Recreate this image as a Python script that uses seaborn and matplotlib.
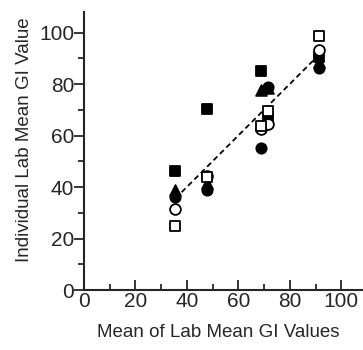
import numpy as np
import pandas as pd
import matplotlib
matplotlib.use("Agg")
import matplotlib.pyplot as plt
from matplotlib.ticker import MultipleLocator
import seaborn as sns

# mean of lab mean GI values for each of the five foods
food_means = [35.5, 47.7, 68.8, 71.6, 91.5]

# individual lab mean GI values, one list per lab
lab1 = [46.3, 70.2, 85.0, 67.0, 90.5]   # filled square
lab2 = [38.8, 41.5, 77.5, 78.5, 88.5]   # filled triangle
lab3 = [36.2, 38.8, 55.2, 78.8, 86.2]   # filled circle
lab4 = [31.4, 44.3, 62.7, 64.6, 93.4]   # open circle
lab5 = [24.8, 43.9, 63.8, 69.5, 98.8]   # open square

labs = [lab1, lab2, lab3, lab4, lab5]
markers = ["s", "^", "o", "o", "s"]
faces = ["black", "black", "black", "white", "white"]
sizes = [50, 60, 55, 60, 60]

sns.set_style("ticks")
plt.rcParams["font.family"] = ["Liberation Sans", "DejaVu Sans"]

fig = plt.figure(figsize=(3.63, 3.5), dpi=100)
ax = fig.add_axes([0.231, 0.171, 0.766, 0.795])

rows = []
for i, vals in enumerate(labs):
    for m, v in zip(food_means, vals):
        rows.append({"lab": i, "mean": m, "gi": v})
df = pd.DataFrame(rows)

# regression line over all points
sns.regplot(data=df, x="mean", y="gi", scatter=False, ci=None, truncate=True,
            color="black", line_kws={"linestyle": (0, (3, 2)), "linewidth": 1.3}, ax=ax)

for i, vals in enumerate(labs):
    sns.scatterplot(x=food_means, y=vals, marker=markers[i], s=sizes[i],
                    color=faces[i], edgecolor="black", linewidth=1.3,
                    zorder=3 + i, ax=ax)

ax.set_xlim(0, 108)
ax.set_ylim(0, 108)
ax.xaxis.set_major_locator(MultipleLocator(20))
ax.xaxis.set_minor_locator(MultipleLocator(10))
ax.yaxis.set_major_locator(MultipleLocator(20))
ax.yaxis.set_minor_locator(MultipleLocator(10))
ax.tick_params(axis="x", which="major", direction="in", length=7, width=1.3, labelsize=15, pad=1)
ax.tick_params(axis="x", which="minor", direction="in", length=4, width=1.3)
ax.tick_params(axis="y", which="major", direction="out", length=7, width=1.3, labelsize=15, pad=0)
ax.tick_params(axis="y", which="minor", direction="out", length=4, width=1.3)
for s in ["left", "bottom"]:
    ax.spines[s].set_linewidth(1.5)
sns.despine(ax=ax)

ax.set_xlabel("Mean of Lab Mean GI Values", fontsize=13.5, labelpad=10, x=0.482)
ax.set_ylabel("Individual Lab Mean GI Value", fontsize=13.5, labelpad=4, y=0.54)

fig.savefig("out.png", dpi=100)
